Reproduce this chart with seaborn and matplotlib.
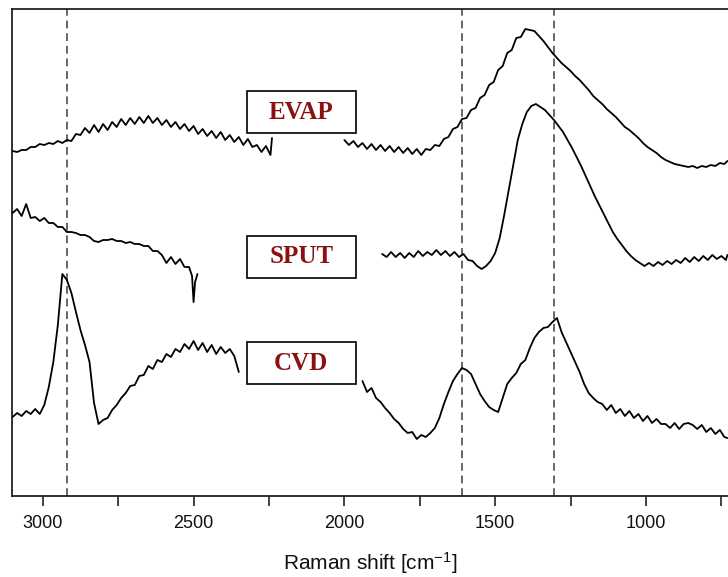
import matplotlib
matplotlib.use("Agg")
import matplotlib.pyplot as plt
import pandas as pd
import seaborn as sns
from matplotlib.patches import Rectangle

# Raman spectra (intensity in arbitrary units, curves offset)
evap_wn_a = [3100, 3085, 3070, 3055, 3040, 3025, 3010, 2995, 2980, 2965,
             2950, 2935, 2920, 2905, 2890, 2875, 2860, 2845, 2830, 2815,
             2800, 2785, 2770, 2755, 2740, 2725, 2710, 2695, 2680, 2665,
             2650, 2635, 2620, 2605, 2590, 2575, 2560, 2545, 2530, 2515,
             2500, 2485, 2470, 2455, 2440, 2425, 2410, 2395, 2380, 2365,
             2350, 2335, 2320, 2305, 2290, 2275, 2260, 2245, 2240]
evap_int_a = [345, 344, 346, 346, 349, 349, 352, 351, 353, 352,
              355, 353, 356, 355, 362, 361, 368, 363, 371, 364,
              372, 366, 374, 369, 377, 371, 378, 372, 379, 373,
              380, 373, 378, 371, 376, 369, 374, 367, 372, 365,
              370, 362, 367, 360, 365, 358, 364, 356, 361, 354,
              359, 351, 357, 349, 351, 344, 350, 341, 358]

evap_wn_b = [2000, 1985, 1970, 1955, 1940, 1925, 1910, 1895, 1880, 1865,
             1850, 1835, 1820, 1805, 1790, 1775, 1760, 1745, 1730, 1715,
             1700, 1685, 1670, 1655, 1640, 1625, 1610, 1595, 1580, 1565,
             1550, 1535, 1520, 1505, 1490, 1475, 1460, 1445, 1430, 1415,
             1400, 1385, 1370, 1355, 1340, 1325, 1310, 1295, 1280, 1265,
             1250, 1235, 1220, 1205, 1190, 1175, 1160, 1145, 1130, 1115,
             1100, 1085, 1070, 1055, 1040, 1025, 1010, 995, 980, 965,
             950, 935, 920, 905, 890, 875, 860, 845, 830, 815,
             800, 785, 770, 755, 740, 730]
evap_int_b = [356, 351, 355, 349, 353, 347, 352, 346, 351, 345,
              350, 344, 349, 343, 348, 342, 347, 341, 347, 346,
              351, 350, 357, 359, 367, 369, 377, 378, 386, 388,
              398, 401, 411, 414, 426, 430, 443, 446, 458, 459,
              467, 466, 465, 460, 455, 449, 443, 438, 433, 429,
              425, 420, 416, 411, 406, 400, 396, 392, 387, 383,
              379, 374, 369, 366, 362, 358, 353, 349, 346, 343,
              339, 336, 334, 332, 331, 330, 329, 330, 328, 330,
              329, 331, 330, 333, 332, 335]

sput_wn_a = [3100, 3085, 3070, 3055, 3040, 3025, 3010, 2995, 2980, 2965,
             2950, 2935, 2920, 2905, 2890, 2875, 2860, 2845, 2830, 2815,
             2800, 2785, 2770, 2755, 2740, 2725, 2710, 2695, 2680, 2665,
             2650, 2635, 2620, 2605, 2590, 2575, 2560, 2545, 2530, 2515,
             2505, 2500, 2495, 2487]
sput_int_a = [283, 287, 280, 292, 278, 279, 275, 278, 273, 273,
              269, 269, 264, 264, 263, 261, 261, 259, 255, 254,
              256, 256, 257, 255, 255, 253, 254, 252, 252, 250,
              250, 245, 245, 241, 233, 239, 232, 237, 229, 229,
              220, 194, 214, 222]

sput_wn_b = [1875, 1860, 1845, 1830, 1815, 1800, 1785, 1770, 1755, 1740,
             1725, 1710, 1695, 1680, 1665, 1650, 1635, 1620, 1605, 1590,
             1575, 1560, 1545, 1530, 1515, 1500, 1485, 1470, 1455, 1440,
             1425, 1410, 1395, 1380, 1365, 1350, 1335, 1320, 1305, 1290,
             1275, 1260, 1245, 1230, 1215, 1200, 1185, 1170, 1155, 1140,
             1125, 1110, 1095, 1080, 1065, 1050, 1035, 1020, 1005, 990,
             975, 960, 945, 930, 915, 900, 885, 870, 855, 840,
             825, 810, 795, 780, 765, 750, 735, 730]
sput_int_b = [242, 239, 244, 239, 243, 238, 243, 239, 245, 240,
              244, 241, 246, 241, 245, 240, 244, 239, 242, 236,
              235, 230, 227, 230, 235, 243, 258, 281, 306, 331,
              356, 372, 384, 390, 392, 389, 386, 381, 376, 370,
              364, 356, 348, 339, 330, 320, 310, 300, 291, 282,
              273, 264, 257, 251, 245, 240, 236, 233, 230, 233,
              230, 234, 231, 235, 232, 236, 233, 238, 234, 239,
              235, 240, 236, 241, 237, 240, 236, 241]

cvd_wn_a = [3100, 3085, 3070, 3055, 3040, 3025, 3010, 2995, 2980, 2965,
            2950, 2935, 2920, 2905, 2890, 2875, 2860, 2845, 2830, 2815,
            2800, 2785, 2770, 2755, 2740, 2725, 2710, 2695, 2680, 2665,
            2650, 2635, 2620, 2605, 2590, 2575, 2560, 2545, 2530, 2515,
            2500, 2485, 2470, 2455, 2440, 2425, 2410, 2395, 2380, 2365,
            2350]
cvd_int_a = [79, 83, 80, 85, 82, 87, 82, 91, 109, 134,
             171, 222, 216, 203, 184, 166, 151, 134, 93, 72,
             76, 78, 86, 91, 98, 103, 110, 111, 120, 121,
             130, 127, 136, 134, 142, 139, 147, 144, 152, 147,
             155, 146, 153, 144, 151, 142, 149, 143, 147, 140,
             124]

cvd_wn_b = [1940, 1925, 1910, 1895, 1880, 1865, 1850, 1835, 1820, 1805,
            1790, 1775, 1760, 1745, 1730, 1715, 1700, 1685, 1670, 1655,
            1640, 1625, 1610, 1595, 1580, 1565, 1550, 1535, 1520, 1505,
            1490, 1475, 1460, 1445, 1430, 1415, 1400, 1385, 1370, 1355,
            1340, 1325, 1310, 1295, 1280, 1265, 1250, 1235, 1220, 1205,
            1190, 1175, 1160, 1145, 1130, 1115, 1100, 1085, 1070, 1055,
            1040, 1025, 1010, 995, 980, 965, 950, 935, 920, 905,
            890, 875, 860, 845, 830, 815, 800, 785, 770, 755,
            740, 730]
cvd_int_b = [115, 104, 108, 98, 94, 88, 83, 77, 73, 67,
             63, 64, 57, 61, 59, 63, 68, 78, 92, 104,
             115, 122, 128, 126, 122, 112, 102, 95, 89, 86,
             84, 98, 112, 118, 123, 132, 136, 148, 158, 164,
             168, 169, 174, 178, 164, 154, 144, 134, 124, 112,
             103, 98, 94, 92, 86, 91, 83, 87, 80, 85,
             78, 82, 75, 80, 73, 77, 72, 72, 68, 73,
             67, 72, 73, 71, 67, 71, 64, 68, 62, 66,
             59, 58]

band_positions = [2920, 1610, 1305]
major_ticks = [3000, 2500, 2000, 1500, 1000]
minor_ticks = [2750, 2250, 1750, 1250, 750]
labels = ["EVAP", "SPUT", "CVD"]

segments = [
    ("EVAP-a", evap_wn_a, evap_int_a), ("EVAP-b", evap_wn_b, evap_int_b),
    ("SPUT-a", sput_wn_a, sput_int_a), ("SPUT-b", sput_wn_b, sput_int_b),
    ("CVD-a", cvd_wn_a, cvd_int_a), ("CVD-b", cvd_wn_b, cvd_int_b),
]
df = pd.concat([pd.DataFrame({"wn": wn, "intensity": inten, "segment": name})
                for name, wn, inten in segments], ignore_index=True)

sns.set_theme(style="ticks")
plt.rcParams["font.family"] = ["Liberation Sans", "DejaVu Sans"]
plt.rcParams["mathtext.default"] = "regular"

fig = plt.figure(figsize=(7.28, 5.77), dpi=100)
ax = fig.add_axes([12 / 728, 1 - 496 / 577, 716 / 728, 487 / 577])

sns.lineplot(data=df, x="wn", y="intensity", units="segment", estimator=None,
             color="black", linewidth=1.3, legend=False, ax=ax, zorder=3)

for pos in band_positions:
    ax.axvline(pos, color="#666666", linestyle=(0, (4, 2.5)), linewidth=1.4, zorder=1)

ax.set_xlim(3102, 728)
ax.set_ylim(0, 487)
ax.set_yticks([])
ax.set_xticks(major_ticks)
ax.set_xticks(minor_ticks, minor=True)
ax.tick_params(axis="x", which="both", direction="out", length=7, width=1.2,
               color="#222222", labelsize=13, pad=7, labelcolor="#111111")
ax.set_xlabel("Raman shift [cm$^{-1}$]", fontsize=15, labelpad=13, color="#111111")
ax.set_ylabel("")
ax.spines["right"].set_visible(False)
for side in ["left", "top", "bottom"]:
    ax.spines[side].set_linewidth(1.3)
    ax.spines[side].set_color("#222222")

# label boxes (axes fraction)
box_bottoms = [0.745, 0.448, 0.230]
for text, y0 in zip(labels, box_bottoms):
    ax.add_patch(Rectangle((0.328, y0), 0.152, 0.086, transform=ax.transAxes,
                           facecolor="white", edgecolor="black", linewidth=1.2, zorder=5))
    ax.text(0.404, y0 + 0.043, text, transform=ax.transAxes, ha="center", va="center",
            fontsize=18, fontweight="bold", family="Liberation Serif", color="#8b1010", zorder=6)

fig.savefig("out.png", dpi=100)
